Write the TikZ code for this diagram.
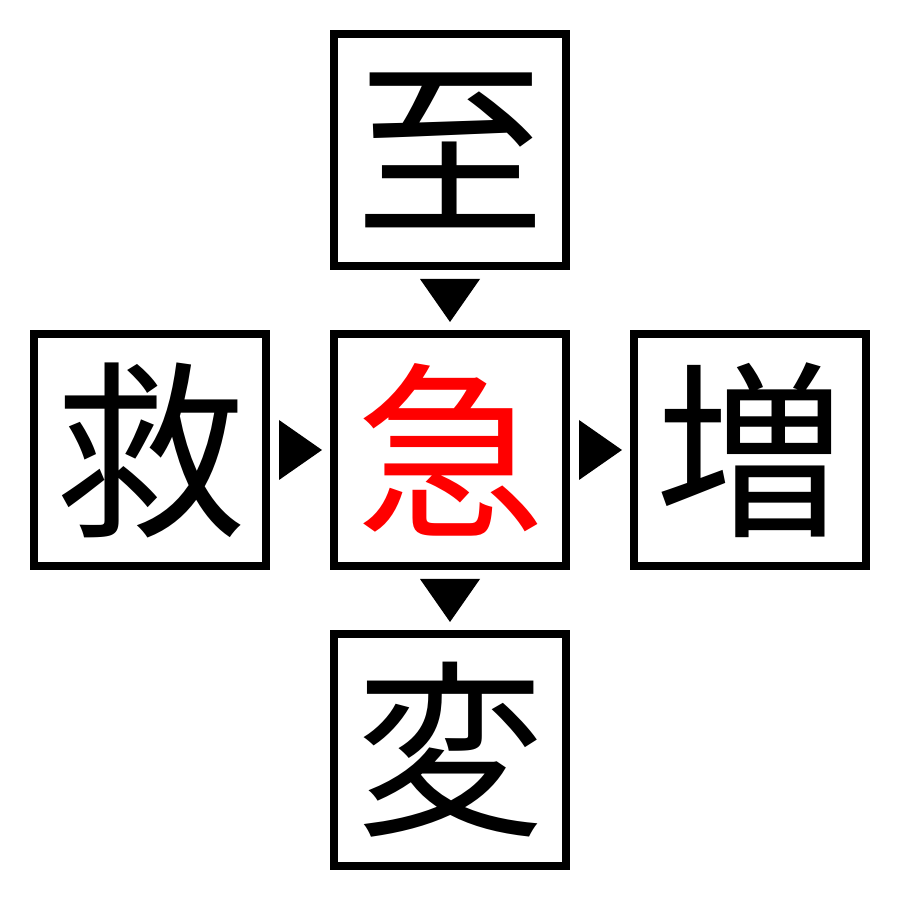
\documentclass[tikz,border=0pt]{standalone}
\usepackage{fontspec}
\newfontfamily\cjk{Noto Sans CJK JP}
\usetikzlibrary{positioning, calc}

\tikzset{
    kbox/.style={draw, line width=0.08cm, minimum size=2.32cm, inner sep=0pt,
        font=\cjk\fontsize{54}{54}\selectfont},
    tri/.style={fill=black}
}

\begin{document}
\begin{tikzpicture}
    \useasboundingbox (0,0) rectangle (9,9);
    \node[kbox, text=red] (mid) at (4.5,4.5) {急};
    \node[kbox] (top) at (4.5,7.5) {至};
    \node[kbox] (bot) at (4.5,1.5) {変};
    \node[kbox] (left) at (1.5,4.5) {救};
    \node[kbox] (right) at (7.5,4.5) {増};
    % arrow heads
    \fill[tri] ($(top.south)+(-0.3,-0.09)$) -- ++(0.6,0) -- ($(mid.north)+(0,0.08)$) -- cycle;
    \fill[tri] ($(mid.south)+(-0.3,-0.09)$) -- ++(0.6,0) -- ($(bot.north)+(0,0.08)$) -- cycle;
    \fill[tri] ($(left.east)+(0.09,0.3)$) -- ++(0,-0.6) -- ($(mid.west)+(-0.08,0)$) -- cycle;
    \fill[tri] ($(mid.east)+(0.09,0.3)$) -- ++(0,-0.6) -- ($(right.west)+(-0.08,0)$) -- cycle;
\end{tikzpicture}
\end{document}
